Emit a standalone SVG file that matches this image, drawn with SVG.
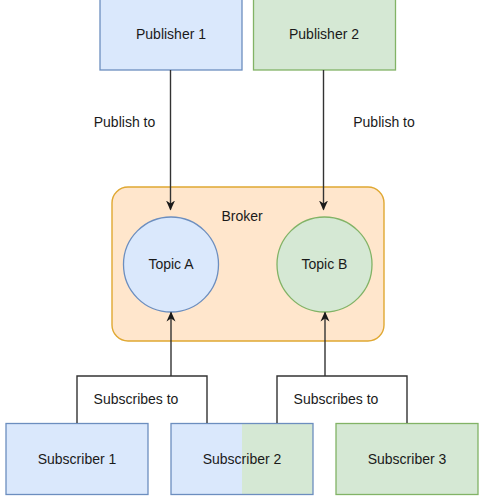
<svg xmlns="http://www.w3.org/2000/svg" width="483" height="499" viewBox="0 0 483 499">
<defs>
<style>
text{font-family:"Liberation Sans",Arial,sans-serif;font-size:14px;fill:#1a1a1a;text-anchor:middle;dominant-baseline:central}
.blue{fill:#dae8fc;stroke:#6c8ebf;stroke-width:1.3}
.green{fill:#d5e8d4;stroke:#82b366;stroke-width:1.3}
.edge{fill:none;stroke:#333333;stroke-width:1.4}
</style>
<marker id="arr" viewBox="0 0 10 10" refX="9" refY="5" markerWidth="10" markerHeight="10" markerUnits="userSpaceOnUse" orient="auto">
<path d="M0,0.5 L10,5 L0,9.5 L3,5 Z" fill="#1a1a1a"/>
</marker>
</defs>
<rect width="483" height="499" fill="#ffffff"/>
<g id="broker">
<rect x="112" y="187" width="272" height="154" rx="16" ry="16" fill="#ffe6cc" stroke="#e0a832" stroke-width="1.4"/>
<text x="242" y="216">Broker</text>
</g>
<g id="publisher1">
<rect class="blue" x="100" y="-2" width="142" height="72"/>
<text x="171" y="34">Publisher 1</text>
</g>
<g id="publisher2">
<rect class="green" x="253.5" y="-2" width="142" height="72"/>
<text x="324" y="34">Publisher 2</text>
</g>
<g id="topicA">
<circle class="blue" cx="171" cy="264.5" r="47.5"/>
<text x="171" y="264">Topic A</text>
</g>
<g id="topicB">
<circle class="green" cx="324.5" cy="264.5" r="47.5"/>
<text x="324.5" y="264">Topic B</text>
</g>
<g id="subscriber1">
<rect class="blue" x="6" y="423.5" width="142" height="71"/>
<text x="77" y="459">Subscriber 1</text>
</g>
<g id="subscriber2">
<rect x="171" y="423.5" width="71" height="71" fill="#dae8fc"/>
<rect x="242" y="423.5" width="71" height="71" fill="#d5e8d4"/>
<rect x="171" y="423.5" width="142" height="71" fill="none" stroke="#6c8ebf" stroke-width="1.3"/>
<text x="242" y="459">Subscriber 2</text>
</g>
<g id="subscriber3">
<rect class="green" x="336" y="423.5" width="142" height="71"/>
<text x="407" y="459">Subscriber 3</text>
</g>
<g id="connectors">
<path class="edge" d="M170.5,70 V209.5" marker-end="url(#arr)"/>
<path class="edge" d="M323.5,70 V209.5" marker-end="url(#arr)"/>
<path class="edge" d="M77,423 V376 H207 V423"/>
<path class="edge" d="M171,376 V312.5" marker-end="url(#arr)"/>
<path class="edge" d="M277,423 V376 H407 V423"/>
<path class="edge" d="M325,376 V312.5" marker-end="url(#arr)"/>
<text x="124.5" y="122">Publish to</text>
<text x="384" y="122">Publish to</text>
<text x="136" y="399">Subscribes to</text>
<text x="336" y="399">Subscribes to</text>
</g>
</svg>
